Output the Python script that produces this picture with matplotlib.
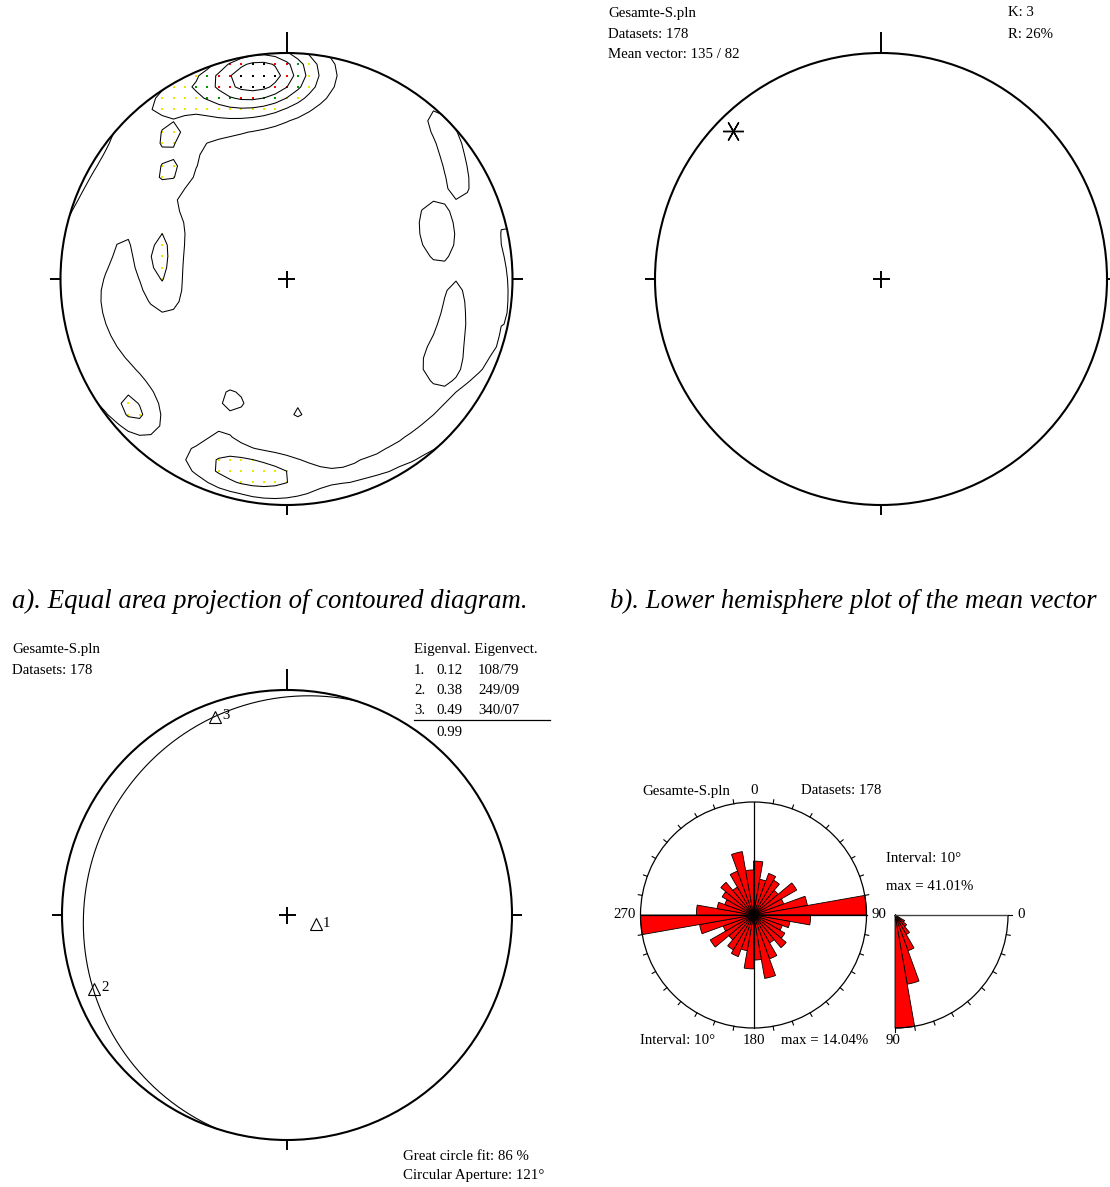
import numpy as np
import matplotlib
matplotlib.use("Agg")
import matplotlib.pyplot as plt
from matplotlib.patches import Circle, Wedge, Arc

W, H, DPI = 1110, 1187, 100

# ---------------- data ----------------
file_name = "Gesamte-S.pln"
n_datasets = 178

# pole concentrations behind the density contours: trend, plunge (deg), weight, concentration
pole_trend  = [352, 330, 320, 314, 321, 313,
               296, 277, 265, 252, 240, 229, 277, 229, 230,
               290, 276, 261,
               186, 197, 203, 205, 176, 159, 144, 131,
               75, 85, 97, 109, 121,
               44, 50, 56, 62, 67, 78,
               95, 104, 117,
               204, 175]
pole_plunge = [10, 3, 4, 20, 20, 31,
               18, 6, 5, 6, 12, 11, 14, 11, 18,
               42, 43, 45,
               14, 14, 27, 10, 12, 10, 8, 5,
               0, 0, 0, 0, 0,
               3, 7, 11, 15, 29, 32,
               26, 25, 24,
               41, 41]
pole_weight = [5.7, 0.95, 0.55, 1.1, 0.95, 1.15,
               0.7, 0.7, 0.7, 0.7, 0.7, 0.7, 0.7, 0.9, 0.45,
               1.15, 1.45, 1.15,
               1.6, 1.6, 0.7, 0.55, 0.9, 0.9, 0.9, 0.9,
               0.7, 0.7, 0.7, 0.7, 0.7,
               1.2, 1.1, 1.1, 1.0, 1.1, 1.1,
               1.15, 1.2, 1.6,
               1.4, 1.15]
pole_kappa  = [25, 60, 60, 8, 220, 150,
               25, 25, 25, 25, 25, 30, 150, 250, 60,
               80, 80, 80,
               60, 60, 150, 60, 50, 50, 50, 50,
               60, 60, 60, 60, 60,
               150, 150, 150, 200, 70, 70,
               200, 150, 60,
               150, 150]
contour_levels = [1, 2, 3, 4, 5]
level_dot_colors = ["#e8e800", "#009900", "#ff0000", "#000000"]

mean_dipdir, mean_dip = 135, 82
k_value, r_value = 3, 26

eigen_values = [0.12, 0.38, 0.49]
eigen_trend = [108, 249, 340]
eigen_plunge = [79, 9, 7]
eigen_sum = 0.99
great_circle_fit = 86
circular_aperture = 121

interval = 10
strike_pct = [6.7, 4.5, 5.5, 5.0, 4.0, 6.2, 4.0, 6.8, 14.04, 7.1, 4.6, 3.8, 4.5, 5.3, 4.0, 5.8, 8.0, 5.6]
dip_pct = [0.2, 0.6, 1.2, 4.0, 5.5, 8.2, 13.8, 25.5, 41.01]

plt.rcParams["font.family"] = ["Liberation Serif", "DejaVu Serif"]
FS = 10.7

fig = plt.figure(figsize=(W / DPI, H / DPI), dpi=DPI)

# overlay in pixel units for the annotations
tax = fig.add_axes([0, 0, 1, 1])
tax.set_xlim(0, W)
tax.set_ylim(H, 0)
tax.axis("off")


def make_axes(cx, cy, half, unit):
    ax = fig.add_axes([(cx - half) / W, (H - cy - half) / H, 2 * half / W, 2 * half / H])
    lim = half / unit
    ax.set_xlim(-lim, lim)
    ax.set_ylim(-lim, lim)
    ax.axis("off")
    return ax


def to_vec(trend, plunge):
    t, p = np.radians(trend), np.radians(plunge)
    return np.array([np.cos(p) * np.sin(t), np.cos(p) * np.cos(t), np.sin(p)])


def project(v):
    """Lambert equal-area, lower hemisphere, unit primitive circle."""
    e, n, d = v
    f = 1.0 / np.sqrt(1.0 + d)
    return e * f, n * f


def draw_net(ax, unit):
    ax.add_patch(Circle((0, 0), 1, fill=False, lw=1.5, color="k"))
    kw = dict(color="k", lw=1.4, solid_capstyle="butt", clip_on=False)
    ax.plot([0, 0], [1, 1 + 21 / unit], **kw)
    ax.plot([0, 0], [-1, -1 - 10 / unit], **kw)
    ax.plot([-1, -1 - 10 / unit], [0, 0], **kw)
    ax.plot([1, 1 + 10 / unit], [0, 0], **kw)
    c = 8.5 / unit
    ax.plot([-c, c], [0, 0], **kw)
    ax.plot([0, 0], [-c, c], **kw)


# ---------------- a) contoured density ----------------
axa = make_axes(286.5, 279, 270, 226)
g = np.arange(-1.15, 1.1501, 0.05)
X, Y = np.meshgrid(g, g)
rr = np.hypot(X, Y)
D = 1.0 - np.clip(rr, 0, np.sqrt(2)) ** 2
hz = np.sqrt(np.clip(1 - D ** 2, 0, 1))
az = np.arctan2(X, Y)
GE, GN = hz * np.sin(az), hz * np.cos(az)
dens = np.zeros_like(X)
for t, p, w, k in zip(pole_trend, pole_plunge, pole_weight, pole_kappa):
    cv = to_vec(t, p)
    dot = GE * cv[0] + GN * cv[1] + D * cv[2]
    dens += w * np.exp(k * (dot - 1.0))

cs = axa.contour(X, Y, dens, levels=contour_levels, colors="k", linewidths=0.75)
cs.set_clip_path(Circle((0, 0), 1, transform=axa.transData))
inside = rr <= 0.99
for i, col in enumerate(level_dot_colors):
    lo = contour_levels[i + 1]
    hi = contour_levels[i + 2] if i + 2 < len(contour_levels) else np.inf
    m = inside & (dens >= lo) & (dens < hi)
    axa.scatter(X[m], Y[m], s=1.2, c=col, marker="s", linewidths=0)
draw_net(axa, 226)

# ---------------- b) mean vector ----------------
axb = make_axes(881, 279, 240, 226)
draw_net(axb, 226)
px, py = project(to_vec(mean_dipdir + 180, 90 - mean_dip))
axb.plot(px, py, marker=(6, 2, 90), ms=15, mew=1.0, color="k")

# ---------------- c) eigenvectors and great circle ----------------
axc = make_axes(287, 915, 270, 225)
draw_net(axc, 225)
e1 = to_vec(eigen_trend[0], eigen_plunge[0])
u = np.cross(e1, [0, 0, 1.0])
u /= np.linalg.norm(u)
wv = np.cross(e1, u)
if wv[2] < 0:
    wv = -wv
phi = np.linspace(0, np.pi, 361)
pts = np.outer(np.cos(phi), u) + np.outer(np.sin(phi), wv)
gx, gy = project(pts.T)
axc.plot(gx, gy, color="k", lw=0.8)
for i, (t, p) in enumerate(zip(eigen_trend, eigen_plunge)):
    ex, ey = project(to_vec(t, p))
    axc.plot(ex, ey, marker="^", ms=9, mfc="none", mec="k", mew=0.8)
    axc.annotate(str(i + 1), (ex, ey), xytext=(5, 1), textcoords="offset points",
                 fontsize=FS, va="center", ha="left")

# ---------------- d) rose diagrams ----------------
R_ROSE = 113
axr = make_axes(753.5, 915, 150, R_ROSE / max(strike_pct))
rmax = max(strike_pct)
for b, p in zip(range(0, 180, interval), strike_pct):
    for off in (0, 180):
        a0 = b + off
        axr.add_patch(Wedge((0, 0), p, 90 - (a0 + interval), 90 - a0,
                            facecolor="#ff0000", edgecolor="k", lw=0.6))
axr.add_patch(Circle((0, 0), rmax, fill=False, lw=0.9, color="k"))
axr.plot([0, 0], [-rmax, rmax], color="k", lw=0.9)
axr.plot([-rmax, rmax], [0, 0], color="k", lw=0.9)
tl = 4 / R_ROSE * rmax
for a in range(0, 360, 10):
    if a % 90 == 0:
        continue
    s, c = np.sin(np.radians(a)), np.cos(np.radians(a))
    axr.plot([rmax * s, (rmax + tl) * s], [rmax * c, (rmax + tl) * c], color="k", lw=0.8)

dmax = max(dip_pct)
axd = make_axes(895, 915, 150, R_ROSE / dmax)
for b, p in zip(range(0, 90, interval), dip_pct):
    axd.add_patch(Wedge((0, 0), p, -(b + interval), -b,
                        facecolor="#ff0000", edgecolor="k", lw=0.6))
axd.add_patch(Arc((0, 0), 2 * dmax, 2 * dmax, theta1=-90, theta2=0, lw=0.9, color="k"))
axd.plot([0, dmax], [0, 0], color="#444444", lw=1.0)
tl = 4 / R_ROSE * dmax
for a in range(0, 91, 10):
    s, c = np.sin(np.radians(a)), np.cos(np.radians(a))
    axd.plot([dmax * c, (dmax + tl) * c], [-dmax * s, -(dmax + tl) * s], color="k", lw=0.8)

# ---------------- annotations ----------------
def t(x, y, s, **kw):
    kw.setdefault("fontsize", FS)
    kw.setdefault("va", "center")
    tax.text(x, y, s, **kw)

t(12, 601, "a). Equal area projection of contoured diagram.", fontsize=19.3, style="italic")
t(610, 601, "b). Lower hemisphere plot of the mean vector", fontsize=19.3, style="italic")

t(608, 13, file_name)
t(608, 34, f"Datasets: {n_datasets}")
t(608, 55, f"Mean vector: {mean_dipdir} / {mean_dip}")
t(1008, 13, f"K: {k_value}")
t(1008, 34, f"R: {r_value}%")

t(12, 650, file_name)
t(12, 670, f"Datasets: {n_datasets}")
t(414, 650, "Eigenval. Eigenvect.")
for i, (v, tr, pl) in enumerate(zip(eigen_values, eigen_trend, eigen_plunge)):
    y = 670 + 20.5 * i
    t(414, y, f"{i + 1}.")
    t(436, y, f"{v:.2f}")
    t(478, y, f"{tr:03d}/{pl:02d}")
tax.plot([414, 550], [720, 720], color="k", lw=0.9)
t(436, 732, f"{eigen_sum:.2f}")
t(403, 1156, f"Great circle fit: {great_circle_fit} %")
t(403, 1176, f"Circular Aperture: {circular_aperture}°")

t(730, 791, file_name, ha="right")
t(754, 791, "0", ha="center")
t(801, 791, f"Datasets: {n_datasets}")
t(636, 915, "270", ha="right")
t(872, 915, "90")
t(640, 1041, f"Interval: {interval}°")
t(754, 1041, "180", ha="center")
t(781, 1041, f"max = {max(strike_pct):.2f}%")
t(885, 1041, "90")
t(886, 858, f"Interval: {interval}°")
t(886, 887, f"max = {max(dip_pct):.2f}%")
t(1017, 915, "0")

fig.savefig("out.png", dpi=DPI)
